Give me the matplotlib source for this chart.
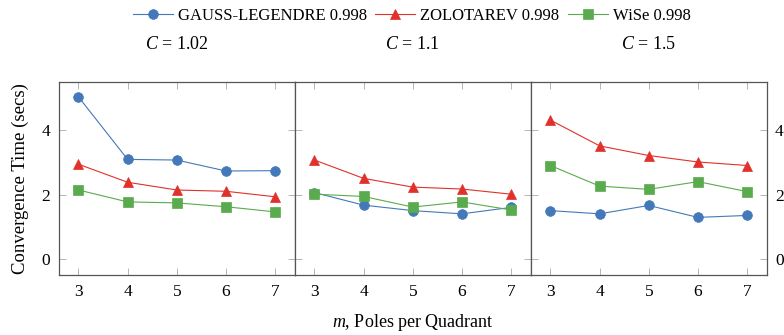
import numpy as np
import matplotlib.pyplot as plt

plt.rcParams['font.family'] = ['Liberation Serif', 'DejaVu Serif']
plt.rcParams['mathtext.fontset'] = 'custom'
plt.rcParams['mathtext.it'] = 'Liberation Serif:italic'
plt.rcParams['mathtext.rm'] = 'Liberation Serif'

m = [3, 4, 5, 6, 7]
titles = ["$C$ = 1.02", "$C$ = 1.1", "$C$ = 1.5"]
labels = ["GAUSS-LEGENDRE 0.998", "ZOLOTAREV 0.998", "WiSe 0.998"]

gauss = [[5.04, 3.10, 3.08, 2.74, 2.75],
         [2.07, 1.68, 1.51, 1.41, 1.61],
         [1.51, 1.41, 1.67, 1.30, 1.36]]
zolo = [[2.95, 2.39, 2.15, 2.11, 1.94],
        [3.08, 2.51, 2.24, 2.18, 2.02],
        [4.32, 3.52, 3.22, 3.02, 2.91]]
wise = [[2.15, 1.78, 1.75, 1.63, 1.47],
        [2.02, 1.95, 1.62, 1.78, 1.53],
        [2.91, 2.27, 2.17, 2.41, 2.10]]

colors = ["#4479b9", "#e0312b", "#5aab4d"]
markers = ["o", "^", "s"]
msizes = [7, 6.5, 6.5]

fig, axes = plt.subplots(1, 3, figsize=(7.84, 3.35), dpi=100, sharey=True)
fig.subplots_adjust(left=0.075, right=0.978, top=0.755, bottom=0.178, wspace=0)

for i, ax in enumerate(axes):
    for series, c, mk, ms in zip([gauss[i], zolo[i], wise[i]], colors, markers, msizes):
        ax.plot(m, series, color=c, marker=mk, markersize=ms, linewidth=0.8,
                markeredgecolor=c, markeredgewidth=0.5)
    ax.set_xlim(2.6, 7.4)
    ax.set_ylim(-0.5, 5.5)
    ax.set_xticks(m)
    ax.set_yticks([0, 2, 4])
    ax.tick_params(direction="in", top=True, bottom=True, left=True, right=True,
                   color="#aaaaaa", length=5, width=0.6, labelsize=12.5,
                   labelleft=(i == 0), labelright=(i == 2), pad=6)
    for s in ax.spines.values():
        s.set_color("#555555")
        s.set_linewidth(0.9)
    ax.set_title(titles[i], fontsize=13, pad=24)

axes[0].set_ylabel("Convergence Time (secs)", fontsize=13.5, labelpad=9)
fig.text(0.527, 0.025, "$m$, Poles per Quadrant", ha="center", fontsize=13)

leg = fig.legend(labels, loc="upper center", bbox_to_anchor=(0.525, 1.02), ncol=3,
                 frameon=False, prop={'family': 'Liberation Serif', 'size': 12},
                 handlelength=2.4, columnspacing=0.5, handletextpad=0.3)

plt.savefig("out.png", dpi=100)
